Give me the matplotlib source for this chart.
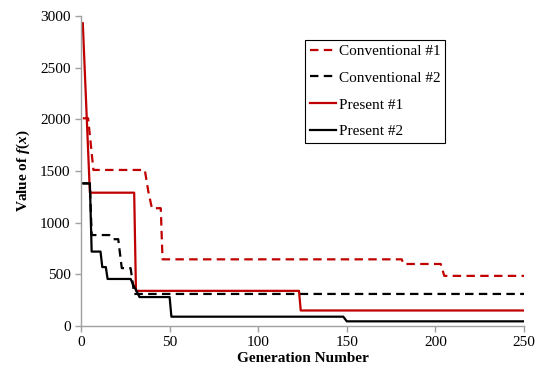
import matplotlib
matplotlib.use("Agg")
import matplotlib.pyplot as plt

# Data (generation breakpoints and values)
conv1_gen = [1, 4, 7, 36, 38, 40, 45, 46, 181, 182, 203, 205, 250]
conv1_val = [2010, 2010, 1510, 1510, 1300, 1140, 1140, 645, 645, 600, 600, 485, 485]

conv2_gen = [1, 5, 6, 16, 18, 21, 23, 28, 30, 250]
conv2_val = [1380, 1380, 880, 880, 840, 840, 560, 560, 310, 310]

pres1_gen = [1, 5, 30, 31, 123, 124, 250]
pres1_val = [2930, 1290, 1290, 340, 340, 150, 150]

pres2_gen = [1, 5, 6, 11, 12, 14, 15, 28, 30, 31, 33, 50, 51, 148, 150, 250]
pres2_val = [1380, 1380, 720, 720, 570, 570, 455, 455, 380, 350, 280, 280, 90, 90, 45, 45]

plt.rcParams['font.family'] = ['Liberation Serif', 'DejaVu Serif']
plt.rcParams['mathtext.fontset'] = 'custom'
plt.rcParams['mathtext.rm'] = 'Liberation Serif'
plt.rcParams['mathtext.bfit'] = 'Liberation Serif:italic:bold'

fig = plt.figure(figsize=(5.38, 3.72), dpi=100)
ax = fig.add_axes([0.1506, 0.1237, 0.8234, 0.8333])

red = '#c00000'
dash = (0, (3.8, 2.4))
ax.plot(conv1_gen, conv1_val, color=red, lw=1.6, linestyle=dash, label='Conventional #1')
ax.plot(conv2_gen, conv2_val, color='black', lw=1.6, linestyle=dash, label='Conventional #2')
ax.plot(pres1_gen, pres1_val, color=red, lw=1.6, label='Present #1')
ax.plot(pres2_gen, pres2_val, color='black', lw=1.6, label='Present #2')

ax.set_xlim(0, 250)
ax.set_ylim(0, 3000)
ax.set_xticks(range(0, 251, 50))
ax.set_yticks(range(0, 3001, 500))

for s in ['top', 'right']:
    ax.spines[s].set_visible(False)
for s in ['left', 'bottom']:
    ax.spines[s].set_color('#a0a0a0')
    ax.spines[s].set_linewidth(1.0)
ax.tick_params(colors='#a0a0a0', labelcolor='black', labelsize=11, length=4, width=1.0)

ax.set_xlabel('Generation Number', fontsize=11, fontweight='bold', labelpad=2)
ax.set_ylabel('Value of $\\mathbfit{f}$($\\mathbfit{x}$)', fontsize=11, fontweight='bold', labelpad=6)

leg = ax.legend(loc='upper left', bbox_to_anchor=(0.506, 0.923), borderaxespad=0,
                fontsize=11, fancybox=False, edgecolor='black', framealpha=1,
                handlelength=1.75, handletextpad=0.15, labelspacing=0.85,
                borderpad=0.3)
leg.get_frame().set_linewidth(0.8)

fig.savefig('out.png', dpi=100)
